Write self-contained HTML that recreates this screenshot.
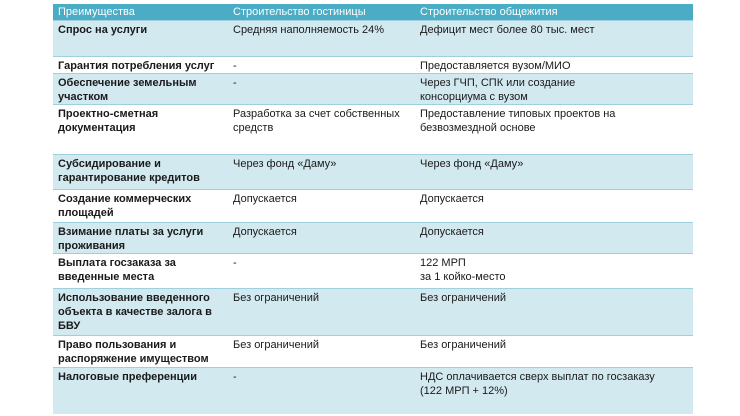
<!DOCTYPE html>
<html><head><meta charset="utf-8"><style>
body{margin:0;width:740px;height:416px;background:#fff;overflow:hidden;font-family:"Liberation Sans","Noto Sans CJK SC",sans-serif;}
table{position:absolute;left:53px;top:4px;width:640px;border-collapse:collapse;table-layout:fixed;font-size:11px;color:#1a1a1a;}
td,th{vertical-align:top;padding:2px 4px 0 5px;line-height:14px;text-align:left;border-top:1px solid #9fd0de;box-sizing:border-box;white-space:nowrap;}
td.k{white-space:normal;}
th{background:#4aacc5;color:#fff;font-weight:normal;height:16px;border-top:none;padding-top:1px;}
tr.b td{background:#d2e9f0;}
tr.w td{background:#fff;}
td.k{font-weight:bold;}
</style></head><body>
<table>
<colgroup><col style="width:175px"><col style="width:187px"><col style="width:278px"></colgroup>
<tr><th>Преимущества</th><th>Строительство гостиницы</th><th>Строительство общежития</th></tr>
<tr class="b" style="height:36px"><td class="k">Спрос на услуги</td><td>Средняя наполняемость 24%</td><td>Дефицит мест более 80 тыс. мест</td></tr>
<tr class="w" style="height:16px"><td class="k">Гарантия потребления услуг</td><td>-</td><td>Предоставляется вузом/МИО</td></tr>
<tr class="b" style="height:28px"><td class="k">Обеспечение земельным участком</td><td>-</td><td>Через ГЧП, СПК или создание<br>консорциума с вузом</td></tr>
<tr class="w" style="height:50px"><td class="k">Проектно-сметная документация</td><td>Разработка за счет собственных<br>средств</td><td>Предоставление типовых проектов на<br>безвозмездной основе</td></tr>
<tr class="b" style="height:35px"><td class="k">Субсидирование и гарантирование кредитов</td><td>Через фонд «Даму»</td><td>Через фонд «Даму»</td></tr>
<tr class="w" style="height:33px"><td class="k">Создание коммерческих площадей</td><td>Допускается</td><td>Допускается</td></tr>
<tr class="b" style="height:30px"><td class="k">Взимание платы за услуги проживания</td><td>Допускается</td><td>Допускается</td></tr>
<tr class="w" style="height:35px"><td class="k">Выплата госзаказа за введенные места</td><td>-</td><td>122 МРП<br>за 1 койко-место</td></tr>
<tr class="b" style="height:47px"><td class="k">Использование введенного объекта в качестве залога в БВУ</td><td>Без ограничений</td><td>Без ограничений</td></tr>
<tr class="w" style="height:32px"><td class="k">Право пользования и распоряжение имуществом</td><td>Без ограничений</td><td>Без ограничений</td></tr>
<tr class="b" style="height:47px"><td class="k">Налоговые преференции</td><td>-</td><td>НДС оплачивается сверх выплат по госзаказу<br>(122 МРП + 12%)</td></tr>
</table>
</body></html>
